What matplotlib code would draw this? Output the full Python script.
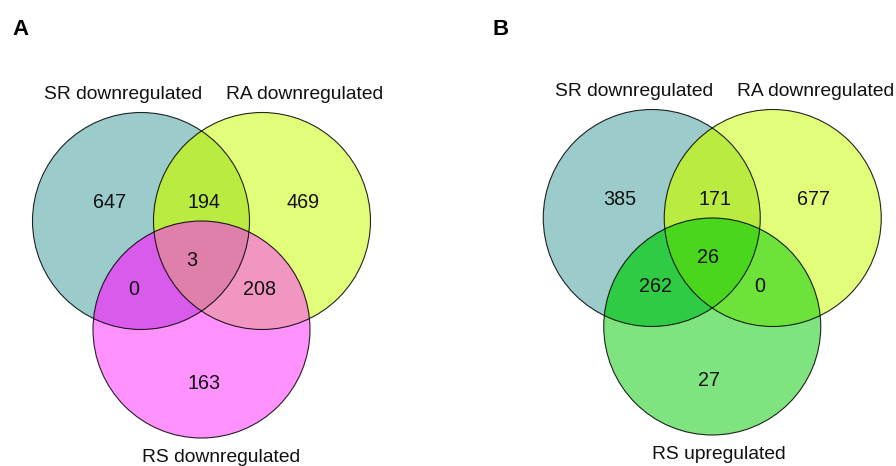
import numpy as np
import matplotlib
matplotlib.use("Agg")
import matplotlib.pyplot as plt
from matplotlib.patches import Circle, PathPatch
from matplotlib.path import Path

# Set names per panel
sets_a = ["SR downregulated", "RA downregulated", "RS downregulated"]
sets_b = ["SR downregulated", "RA downregulated", "RS upregulated"]

# Region counts, order: SR only, SR&RA, RA only, SR&RA&RS, SR&RS, RA&RS, RS only
counts_a = [647, 194, 469, 3, 0, 208, 163]
counts_b = [385, 171, 677, 26, 262, 0, 27]

# Region fill colours, same order as counts
colors_a = ["#9BCBCB", "#B9EB40", "#E1FD79", "#DE80AA", "#D95BEC", "#F096C0", "#FF92FF"]
colors_b = ["#9BCBCB", "#B9EB40", "#E1FD79", "#4AD61C", "#2FCB45", "#6CE23B", "#7FE37F"]

panel_letters = ["A", "B"]

W, H, DPI = 896, 466, 100
fig = plt.figure(figsize=(W / DPI, H / DPI), dpi=DPI)
ax = fig.add_axes([0, 0, 1, 1])
ax.set_xlim(0, W)
ax.set_ylim(H, 0)
ax.axis("off")

FONT = "Liberation Sans"
R = 108.5
DX = 60.5
DY = 108.5

# left-aligned text offsets (x, baseline y) relative to the panel centre
num_offsets = [(-109, -13), (-14, -13), (85, -13), (-15, 45), (-73, 74), (42, 74), (-14, 168)]
label_offsets = [(-157, -122), (24.5, -122), (-60, 241)]


def lens_path(ca, cb, r):
    """Closed path of the intersection of two equal circles."""
    ca, cb = np.asarray(ca, float), np.asarray(cb, float)
    v = cb - ca
    d = np.hypot(*v)
    phi = np.degrees(np.arctan2(v[1], v[0]))
    th = np.degrees(np.arccos(d / (2 * r)))
    a1 = Path.arc(phi - th, phi + th)
    a2 = Path.arc(phi + 180 - th, phi + 180 + th)
    v1 = a1.vertices * r + ca
    v2 = a2.vertices * r + cb
    c1 = a1.codes.copy()
    c2 = a2.codes.copy()
    c2[0] = Path.LINETO
    verts = np.vstack([v1, v2, v1[:1]])
    codes = np.concatenate([c1, c2, [Path.CLOSEPOLY]])
    return Path(verts, codes)


def venn(cx, cy, names, counts, colors, letter, letter_x):
    c_sr = (cx - DX, cy)
    c_ra = (cx + DX, cy)
    c_rs = (cx, cy + DY)

    def circ(c, fc, **kw):
        p = Circle(c, R, facecolor=fc, edgecolor="none", **kw)
        ax.add_patch(p)
        return p

    sr = circ(c_sr, colors[0])
    ra = circ(c_ra, colors[2])
    p = circ(c_ra, colors[1])
    p.set_clip_path(sr)
    circ(c_rs, colors[6])
    p = circ(c_rs, colors[4])
    p.set_clip_path(sr)
    p = circ(c_rs, colors[5])
    p.set_clip_path(ra)
    lens = PathPatch(lens_path(c_sr, c_ra, R), transform=ax.transData)
    p = circ(c_rs, colors[3])
    p.set_clip_path(lens)

    for c in (c_sr, c_ra, c_rs):
        ax.add_patch(Circle(c, R, facecolor="none", edgecolor="black",
                            linewidth=0.8, alpha=0.85))

    for n, (ox, oy) in zip(counts, num_offsets):
        ax.text(cx + ox, cy + oy, str(n), ha="left", va="baseline",
                fontsize=14.2, family=FONT, color="#111111")
    for name, (ox, oy) in zip(names, label_offsets):
        ax.text(cx + ox, cy + oy, name, ha="left", va="baseline",
                fontsize=13.9, family=FONT, color="#111111")

    ax.text(letter_x, 35, letter, ha="left", va="baseline", fontsize=16,
            fontweight="bold", family=FONT, color="black")


venn(201.5, 221, sets_a, counts_a, colors_a, panel_letters[0], 12)
venn(712.25, 218, sets_b, counts_b, colors_b, panel_letters[1], 492)

fig.savefig("out.png", dpi=DPI, facecolor="white")
